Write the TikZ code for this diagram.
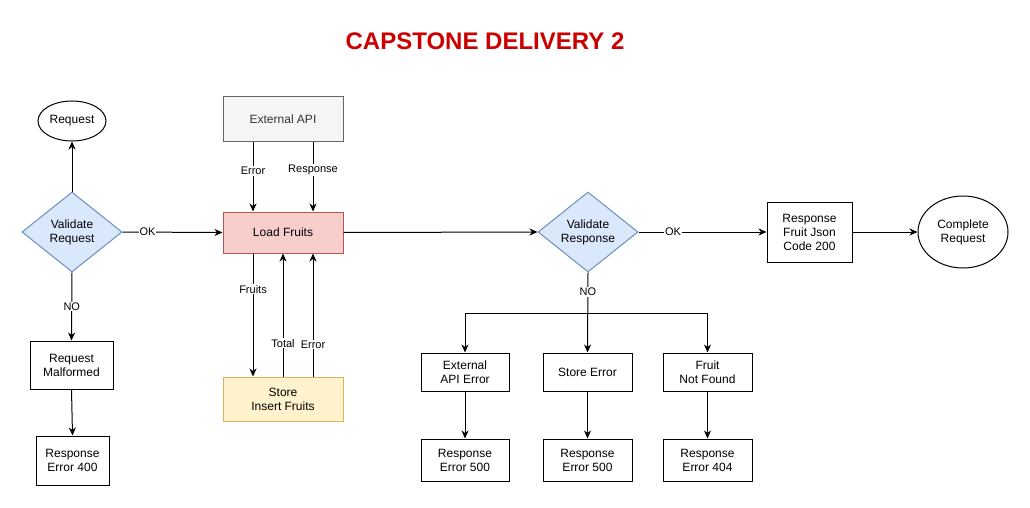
\documentclass[tikz,border=0pt]{standalone}
\usepackage{fontspec}
\setmainfont{Liberation Sans}
\usetikzlibrary{arrows.meta,shapes.geometric}
\definecolor{dblue}{HTML}{DAE8FC}
\definecolor{dbluel}{HTML}{6C8EBF}
\definecolor{dred}{HTML}{F8CECC}
\definecolor{dredl}{HTML}{B85450}
\definecolor{dgray}{HTML}{F5F5F5}
\definecolor{dgrayl}{HTML}{666666}
\definecolor{dgrayt}{HTML}{333333}
\definecolor{dyel}{HTML}{FFF2CC}
\definecolor{dyell}{HTML}{D6B656}
\definecolor{titlered}{HTML}{CC0000}
\tikzset{
  x=1pt,y=-1pt,
  every node/.style={font=\fontsize{12}{14}\selectfont, align=center, inner sep=1pt},
  boxnode/.style={draw=black, line width=1pt, rectangle, minimum width=#1},
  decis/.style={diamond, aspect=1.25, draw=dbluel, fill=dblue, line width=1pt, minimum width=100pt, minimum height=80pt, inner sep=0pt},
  oval/.style={ellipse, draw=black, line width=1pt, inner sep=0pt},
  conn/.style={line width=1pt, -{Stealth[length=8pt,width=7pt,inset=2.5pt]}},
  lbl/.style={fill=white, font=\fontsize{11}{13}\selectfont, inner sep=1pt}
}
\begin{document}
\begin{tikzpicture}
\useasboundingbox[fill=white] (0,0) rectangle (1030,508);
\node[text=titlered, font=\fontsize{24}{28}\bfseries\selectfont] (title) at (485,41) {CAPSTONE DELIVERY 2};

\node[oval, minimum width=68pt, minimum height=40pt] (req) at (72,121) {\raisebox{-1.5pt}{Request}};
\node[decis] (vreq) at (72,232) {Validate\\Request};
\node[boxnode=83pt, minimum height=48pt] (mal) at (71.5,365) {Request\\Malformed};
\node[boxnode=73pt, minimum height=49pt] (r400) at (72.5,460.5) {Response\\Error 400};

\node[rectangle, draw=dgrayl, fill=dgray, text=dgrayt, line width=1pt, minimum width=120pt, minimum height=44pt] (ext) at (283,119) {External API};
\node[rectangle, draw=dredl, fill=dred, line width=1pt, minimum width=120pt, minimum height=41pt] (lf) at (283,232.5) {Load Fruits};
\node[rectangle, draw=dyell, fill=dyel, line width=1pt, minimum width=120pt, minimum height=44pt] (st) at (283,399) {Store\\Insert Fruits};

\node[decis] (vres) at (588,232) {Validate\\Response};
\node[boxnode=85pt, minimum height=60pt] (r200) at (809.5,232) {Response\\Fruit Json\\Code 200};
\node[oval, minimum width=90pt, minimum height=72pt] (done) at (963,232) {Complete\\Request};

\node[boxnode=88pt, minimum height=38pt] (ea) at (465,372) {External\\API Error};
\node[boxnode=89pt, minimum height=38pt] (se) at (587.5,372) {Store Error};
\node[boxnode=89pt, minimum height=38pt] (fn) at (707.5,372) {Fruit\\Not Found};
\node[boxnode=88pt, minimum height=42pt] (e1) at (465,460) {Response\\Error 500};
\node[boxnode=89pt, minimum height=42pt] (e2) at (587.5,460) {Response\\Error 500};
\node[boxnode=89pt, minimum height=42pt] (e3) at (707.5,460) {Response\\Error 404};

% left column
\draw[conn] (vreq.north) -- (req.south);
\draw[conn] (vreq.south) -- node[lbl, pos=0.5] {NO} (mal.north);
\draw[conn] (mal.south) -- (r400.north);
\draw[conn] (vreq.east) -- node[lbl, pos=0.25] {OK} (lf.west);

% external api
\draw[conn] ([xshift=-30pt]ext.south) -- node[lbl, pos=0.42] {Error} ([xshift=-30pt]lf.north);
\draw[conn] ([xshift=30pt]ext.south) -- node[lbl, pos=0.41] {Response} ([xshift=30pt]lf.north);

% store
\draw[conn] ([xshift=-30pt]lf.south) -- node[lbl, pos=0.29] {Fruits} ([xshift=-30pt]st.north);
\draw[conn] (st.north) -- node[lbl, pos=0.27] {Total} (lf.south);
\draw[conn] ([xshift=30pt]st.north) -- node[lbl, pos=0.26] {Error} ([xshift=30pt]lf.south);

% right part
\draw[conn] (lf.east) -- (vres.west);
\draw[conn] (vres.east) -- node[lbl, pos=0.27] {OK} (r200.west);
\draw[conn] (r200.east) -- (done.west);

\coordinate (sp) at (588,313);
\draw[conn] (vres.south) -- node[lbl, pos=0.24] {NO} (se.north);
\draw[conn] (sp) -| (ea.north);
\draw[conn] (sp) -| (fn.north);

\draw[conn] (ea.south) -- (e1.north);
\draw[conn] (se.south) -- (e2.north);
\draw[conn] (fn.south) -- (e3.north);
\end{tikzpicture}
\end{document}
